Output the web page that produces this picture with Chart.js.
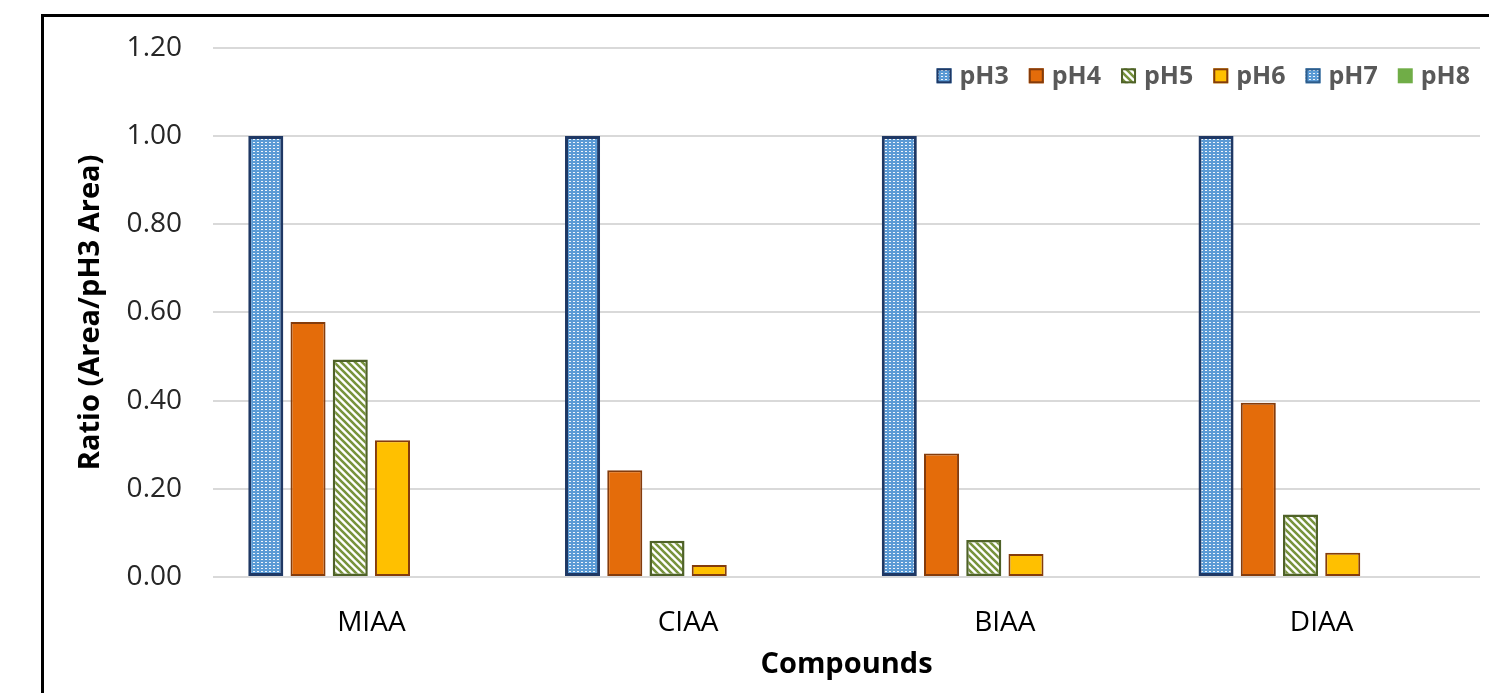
<!DOCTYPE html>
<html lang="en">
<head>
    <meta charset="UTF-8">
    <title>Ratio by pH</title>
    <style>
        body {
            margin: 0;
            background: #fff;
            overflow: hidden;
            font-family: "Open Sans", sans-serif;
        }

        .frame {
            position: absolute;
            left: 41px;
            top: 14px;
            width: 1500px;
            height: 676px;
            border-left: 3px solid #000;
            border-top: 3px solid #000;
            border-bottom: 2px solid #bdbdbd;
        }

        #ratioChart {
            position: absolute;
            left: 0;
            top: 0;
        }
    </style>
</head>
<body>
    <div class="frame"></div>
    <canvas id="ratioChart" width="1489" height="693"></canvas>

    <script src="https://cdn.jsdelivr.net/npm/chart.js"></script>
    <script>
        // data
        const compounds = ['MIAA', 'CIAA', 'BIAA', 'DIAA'];
        const seriesNames = ['pH3', 'pH4', 'pH5', 'pH6', 'pH7', 'pH8'];
        const pH3 = [1.00, 1.00, 1.00, 1.00];
        const pH4 = [0.578, 0.242, 0.280, 0.395];
        const pH5 = [0.493, 0.082, 0.084, 0.142];
        const pH6 = [0.310, 0.027, 0.052, 0.055];
        const pH7 = [0, 0, 0, 0];
        const pH8 = [0, 0, 0, 0];
        const yTicks = [0, 0.2, 0.4, 0.6, 0.8, 1.0, 1.2];

        // fill patterns
        function dotPattern(bg) {
            const c = document.createElement('canvas');
            c.width = 4; c.height = 3;
            const g = c.getContext('2d');
            g.fillStyle = bg;
            g.fillRect(0, 0, 4, 3);
            g.fillStyle = 'rgba(255,255,255,0.9)';
            g.fillRect(1, 1, 2, 1);
            return g.createPattern(c, 'repeat');
        }

        function stripePattern(fg) {
            const s = 7;
            const c = document.createElement('canvas');
            c.width = s; c.height = s;
            const g = c.getContext('2d');
            g.fillStyle = '#fff';
            g.fillRect(0, 0, s, s);
            g.strokeStyle = fg;
            g.lineWidth = 2.6;
            g.beginPath();
            g.moveTo(-1, -1); g.lineTo(s + 1, s + 1);
            g.moveTo(-1, s - 1); g.lineTo(1, s + 1);
            g.moveTo(s - 1, -1); g.lineTo(s + 1, 1);
            g.stroke();
            return g.createPattern(c, 'repeat');
        }

        const values = [pH3, pH4, pH5, pH6, pH7, pH8];
        const fills = [dotPattern('#5b9bd5'), '#e46c0a', stripePattern('#77933c'), '#ffc000', dotPattern('#5b9bd5'), '#70ad47'];
        const borders = ['#1f3864', '#843c0c', '#4f6228', '#843c0c', '#2e5c8a', '#70ad47'];
        const borderWidths = [3, 2, 2.5, 2, 2, 0];

        const datasets = seriesNames.map((name, i) => ({
            label: name,
            data: values[i],
            backgroundColor: fills[i],
            borderColor: borders[i],
            borderWidth: borderWidths[i],
            borderSkipped: false,
            categoryPercentage: 0.8,
            barPercentage: 0.83
        }));

        // legend drawn inside the plot area, top right
        const insideLegend = {
            id: 'insideLegend',
            afterDraw(chart) {
                const ctx = chart.ctx;
                const area = chart.chartArea;
                const box = 15, gapText = 8, gapItem = 20;
                const cy = area.top + 28;
                ctx.save();
                ctx.font = 'bold 25px "Open Sans"';
                ctx.textBaseline = 'middle';
                const widths = chart.data.datasets.map(d => ctx.measureText(d.label).width);
                let total = 0;
                widths.forEach((w, i) => { total += box + gapText + w + (i ? gapItem : 0); });
                let x = area.right - 10 - total;
                chart.data.datasets.forEach((d, i) => {
                    ctx.fillStyle = d.backgroundColor;
                    ctx.fillRect(x, cy - box / 2, box, box);
                    if (d.borderWidth) {
                        ctx.strokeStyle = d.borderColor;
                        ctx.lineWidth = 2;
                        ctx.strokeRect(x + 1, cy - box / 2 + 1, box - 2, box - 2);
                    }
                    ctx.fillStyle = '#595959';
                    ctx.fillText(d.label, x + box + gapText, cy + 1);
                    x += box + gapText + widths[i] + gapItem;
                });
                ctx.restore();
            }
        };

        new Chart(document.getElementById('ratioChart'), {
            type: 'bar',
            data: {
                labels: compounds,
                datasets: datasets
            },
            plugins: [insideLegend],
            options: {
                responsive: false,
                animation: false,
                layout: {
                    padding: { top: 47, right: 9, left: 0, bottom: 0 }
                },
                scales: {
                    x: {
                        grid: { display: false, drawTicks: false },
                        border: { display: false },
                        ticks: {
                            color: '#000',
                            padding: 29,
                            font: { family: 'Open Sans', size: 28 }
                        },
                        title: {
                            display: true,
                            text: 'Compounds',
                            color: '#000',
                            padding: { top: 0, bottom: 11 },
                            font: { family: 'Open Sans', size: 29, weight: 'bold' }
                        },
                        afterFit: (scale) => { scale.height = 116; }
                    },
                    y: {
                        min: 0,
                        max: 1.2,
                        afterBuildTicks: (scale) => {
                            scale.ticks = yTicks.map(v => ({ value: v }));
                        },
                        grid: {
                            color: '#d9d9d9',
                            lineWidth: 2,
                            drawTicks: false
                        },
                        border: { display: false },
                        ticks: {
                            color: '#262626',
                            padding: 31,
                            font: { family: 'Open Sans', size: 28 },
                            callback: (v) => Number(v).toFixed(2)
                        },
                        title: {
                            display: true,
                            text: 'Ratio (Area/pH3 Area)',
                            color: '#000',
                            padding: { top: 73, bottom: 0 },
                            font: { family: 'Open Sans', size: 29, weight: 'bold' }
                        },
                        afterFit: (scale) => { scale.width = 213; }
                    }
                },
                plugins: {
                    legend: { display: false },
                    tooltip: { enabled: false }
                }
            }
        });
    </script>
</body>
</html>
